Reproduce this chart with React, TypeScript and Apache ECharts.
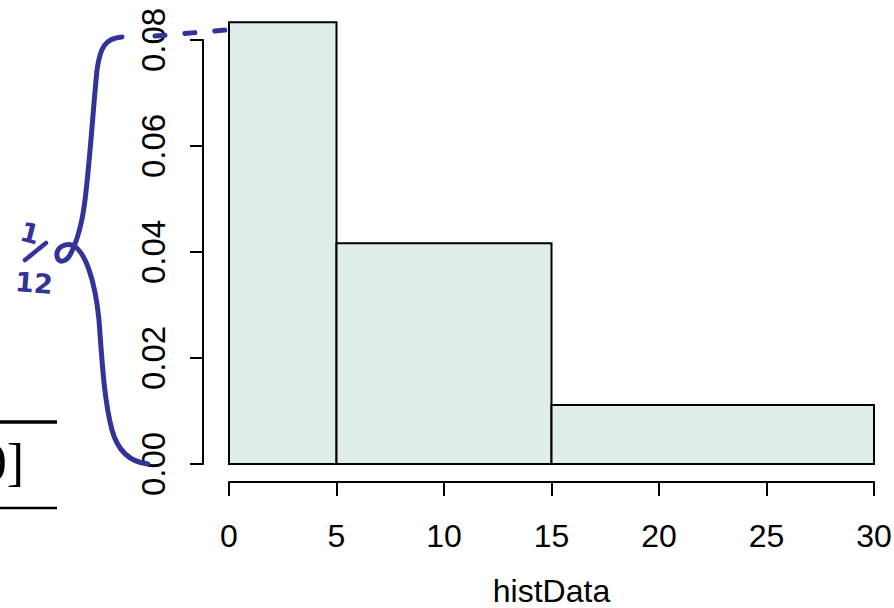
import React, { useEffect, useRef } from "react";
import * as echarts from "echarts";

const binStarts = [0, 5, 15];
const binEnds = [5, 15, 30];
const densities = [0.08333, 0.04167, 0.01111];
const xTicks = [0, 5, 10, 15, 20, 25, 30];
const yTicks = [0, 0.02, 0.04, 0.06, 0.08];
const xTitle = "histData";
const noteTop = "1";
const noteBottom = "12";
const tableText = "0]";

const BRACE =
  "M122,37 C105,38 100,48 97,70 C93,110 90,160 85,200 C82,225 78,240 70,255 C66,262 58,264 57,256 C56,248 64,243 72,245 C85,250 95,280 99,320 C102,360 104,400 112,430 C118,452 130,462 148,464";

let registered = false;

export default function App() {
  const ref = useRef<HTMLDivElement>(null);
  useEffect(() => {
    if (!ref.current) return;
    if (!registered) {
      echarts.graphic.registerShape("brace", echarts.graphic.extendPath(BRACE, {}));
      registered = true;
    }
    const chart = echarts.init(ref.current, null, { renderer: "svg" });
    const font = "'Liberation Sans', Arial, Helvetica, sans-serif";
    const blue = "#33339a";
    const data = binStarts.map((s, i) => [s, binEnds[i], densities[i]]);
    chart.setOption({
      animation: false,
      backgroundColor: "#ffffff",
      grid: {
        left: 229,
        right: 20,
        top: 40,
        bottom: 144,
        containLabel: false,
        outerBoundsMode: "none",
      },
      xAxis: {
        type: "value",
        min: xTicks[0],
        max: xTicks[xTicks.length - 1],
        interval: 5,
        offset: 18,
        name: xTitle,
        nameLocation: "middle",
        nameGap: 93,
        nameTextStyle: { fontFamily: font, fontSize: 32, color: "#000" },
        axisLine: { show: true, onZero: false, lineStyle: { color: "#000", width: 2 } },
        axisTick: { show: true, length: 14, lineStyle: { color: "#000", width: 2 } },
        axisLabel: { fontFamily: font, fontSize: 32, color: "#000", margin: 38 },
        splitLine: { show: false },
      },
      yAxis: {
        type: "value",
        min: yTicks[0],
        max: yTicks[yTicks.length - 1],
        interval: 0.02,
        offset: 26,
        axisLine: { show: true, onZero: false, lineStyle: { color: "#000", width: 2 } },
        axisTick: { show: true, length: 13, lineStyle: { color: "#000", width: 2 } },
        axisLabel: {
          fontFamily: font,
          fontSize: 33,
          color: "#000",
          rotate: 90,
          margin: 33,
          formatter: (v: number) => v.toFixed(2),
        },
        splitLine: { show: false },
      },
      series: [
        {
          type: "custom",
          clip: false,
          encode: { x: [0, 1], y: 2 },
          data,
          renderItem: (params: any, api: any) => {
            const a = api.coord([api.value(0), api.value(2)]);
            const b = api.coord([api.value(1), 0]);
            return {
              type: "rect",
              shape: { x: a[0], y: a[1], width: b[0] - a[0], height: b[1] - a[1] },
              style: { fill: "#e0eded", stroke: "#000", lineWidth: 2 },
            };
          },
        },
      ],
      graphic: [
        {
          type: "brace",
          x: 0,
          y: 0,
          style: { fill: "none", stroke: blue, lineWidth: 5, lineCap: "round", lineJoin: "round" },
          z: 100,
        },
        {
          type: "line",
          shape: { x1: 155, y1: 36, x2: 226, y2: 30 },
          style: { stroke: blue, lineWidth: 5, lineDash: [10, 20], lineCap: "round" },
          z: 100,
        },
        {
          type: "text",
          x: 30,
          y: 233,
          rotation: -0.25,
          style: {
            text: noteTop,
            fill: blue,
            font: "bold 27px 'DejaVu Sans', sans-serif",
            align: "center",
            verticalAlign: "middle",
          },
          z: 100,
        },
        {
          type: "line",
          shape: { x1: 25, y1: 260, x2: 46, y2: 243 },
          style: { stroke: blue, lineWidth: 4.5, lineCap: "round" },
          z: 100,
        },
        {
          type: "text",
          x: 34,
          y: 283,
          rotation: -0.08,
          style: {
            text: noteBottom,
            fill: blue,
            font: "bold 27px 'DejaVu Sans', sans-serif",
            align: "center",
            verticalAlign: "middle",
          },
          z: 100,
        },
        {
          type: "line",
          shape: { x1: 0, y1: 422, x2: 57, y2: 422 },
          style: { stroke: "#000", lineWidth: 3.3 },
        },
        {
          type: "line",
          shape: { x1: 0, y1: 508, x2: 57, y2: 508 },
          style: { stroke: "#000", lineWidth: 2.6 },
        },
        {
          type: "text",
          x: 24,
          y: 462,
          style: {
            text: tableText,
            fill: "#000",
            font: "52px 'Liberation Serif', 'Times New Roman', serif",
            align: "right",
            verticalAlign: "middle",
          },
        },
      ],
    });
    return () => chart.dispose();
  }, []);
  return (
    <div
      ref={ref}
      style={{ position: "fixed", left: 0, top: 0, width: 894, height: 608 }}
    />
  );
}
